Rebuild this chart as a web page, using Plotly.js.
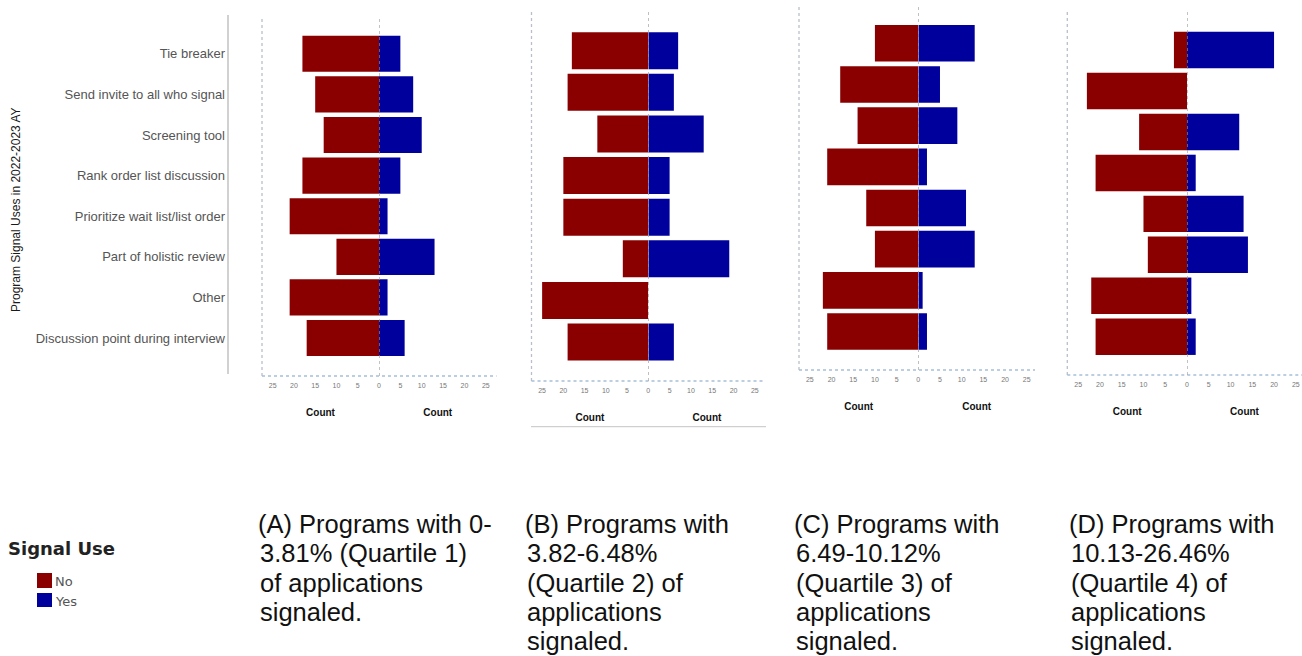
<!DOCTYPE html>
<html>
<head>
<meta charset="utf-8">
<script src="https://cdn.plot.ly/plotly-3.0.1.min.js"></script>
<style>
  html, body { margin: 0; padding: 0; background: #fff; }
  #chart { width: 1302px; height: 656px; }
</style>
</head>
<body>
<div id="chart"></div>
<script>
// ---------------- data ----------------
const categories = [
  "Tie breaker",
  "Send invite to all who signal",
  "Screening tool",
  "Rank order list discussion",
  "Prioritize wait list/list order",
  "Part of holistic review",
  "Other",
  "Discussion point during interview"
];
const noQ1  = [18, 15, 13, 18, 21, 10, 21, 17];
const yesQ1 = [5, 8, 10, 5, 2, 13, 2, 6];
const noQ2  = [18, 19, 12, 20, 20, 6, 25, 19];
const yesQ2 = [7, 6, 13, 5, 5, 19, 0, 6];
const noQ3  = [10, 18, 14, 21, 12, 10, 22, 21];
const yesQ3 = [13, 5, 9, 2, 11, 13, 1, 2];
const noQ4  = [3, 23, 11, 21, 10, 9, 22, 21];
const yesQ4 = [20, 0, 12, 2, 13, 14, 1, 2];
const tickValues = [0, 5, 10, 15, 20, 25];
const seriesNames = ["No", "Yes"];
const legendTitle = "Signal Use";
const yAxisTitle = "Program Signal Uses in 2022-2023 AY";
const xAxisTitle = "Count";
const captionA = ["(A) Programs with 0-", "3.81% (Quartile 1)", "of applications", "signaled."];
const captionB = ["(B) Programs with", "3.82-6.48%", "(Quartile 2) of", "applications", "signaled."];
const captionC = ["(C) Programs with", "6.49-10.12%", "(Quartile 3) of", "applications", "signaled."];
const captionD = ["(D) Programs with", "10.13-26.46%", "(Quartile 4) of", "applications", "signaled."];

// ---------------- layout helpers ----------------
const W = 1302, H = 656;
const fx = px => px / W;
const fy = px => 1 - px / H;
const RED = "#8a0000", BLUE = "#00009c";

const panelData = [
  {no: noQ1, yes: yesQ1, caption: captionA},
  {no: noQ2, yes: yesQ2, caption: captionB},
  {no: noQ3, yes: yesQ3, caption: captionC},
  {no: noQ4, yes: yesQ4, caption: captionD}
];
// pixel geometry of each panel (left edge, zero line, right edge, top, bottom)
const geom = [
  {x0: 262,    xz: 379,    x1: 496.5, top: 16, bot: 376, capX: 256},
  {x0: 531.5,  xz: 648.3,  x1: 765.5, top: 12, bot: 381, capX: 523},
  {x0: 799,    xz: 918.3,  x1: 1035,  top: 5,  bot: 370, capX: 792},
  {x0: 1067.3, xz: 1187,   x1: 1302,  top: 12, bot: 375, capX: 1067}
];
const LEFT_MAX = 27.5;
const Y_RANGE = [7.935, -0.93];

const traces = [];
const layout = {
  width: W, height: H,
  margin: {l: 0, r: 0, t: 0, b: 0},
  paper_bgcolor: "#fff", plot_bgcolor: "rgba(0,0,0,0)",
  showlegend: false,
  bargap: 0.11,
  font: {family: "Liberation Sans, Arial, sans-serif", color: "#333"},
  shapes: [], annotations: []
};

const tickFont = {family: "Liberation Sans, Arial, sans-serif", size: 7, color: "#777"};
const countTitle = {text: xAxisTitle, font: {family: "Liberation Sans, Arial, sans-serif", size: 10, color: "#111", weight: "bold"}, standoff: 20};

panelData.forEach((p, i) => {
  const g = geom[i];
  const xl = 2 * i + 1, xr = 2 * i + 2, yi = i + 1;
  const xlName = "x" + xl, xrName = "x" + xr, yName = "y" + yi;
  const pxPerUnit = (g.xz - g.x0) / LEFT_MAX;
  const rightMax = Math.min(LEFT_MAX, (g.x1 - g.xz) / pxPerUnit);

  traces.push({
    type: "bar", orientation: "h", name: seriesNames[0],
    x: p.no, y: categories, xaxis: xlName, yaxis: yName,
    marker: {color: RED, line: {width: 0}}, hoverinfo: "x+y+name"
  });
  traces.push({
    type: "bar", orientation: "h", name: seriesNames[1],
    x: p.yes, y: categories, xaxis: xrName, yaxis: yName,
    marker: {color: BLUE, line: {width: 0}}, hoverinfo: "x+y+name"
  });

  const yDomain = [fy(g.bot), fy(g.top)];
  layout["xaxis" + xl] = {
    domain: [fx(g.x0), fx(g.xz)], anchor: yName,
    range: [LEFT_MAX, 0], tickvals: tickValues,
    showgrid: false, zeroline: false, showline: false, ticks: "",
    tickfont: tickFont, ticklabelstandoff: 4, fixedrange: true,
    title: countTitle
  };
  layout["xaxis" + xr] = {
    domain: [fx(g.xz), fx(g.x1)], anchor: yName,
    range: [0, rightMax], tickvals: tickValues.filter(v => v > 0 && v <= rightMax + 0.01),
    showgrid: false, zeroline: false, showline: false, ticks: "",
    tickfont: tickFont, ticklabelstandoff: 4, fixedrange: true,
    title: countTitle
  };
  layout["yaxis" + yi] = {
    domain: yDomain, anchor: xlName,
    type: "category", categoryorder: "array", categoryarray: categories,
    range: Y_RANGE, showgrid: false, zeroline: false, showline: false, ticks: "",
    showticklabels: i === 0, ticklabelstandoff: 36,
    tickfont: {family: "Liberation Sans, Arial, sans-serif", size: 13, color: "#555"},
    fixedrange: true
  };

  // dotted frame lines (left and bottom) and dotted zero line
  layout.shapes.push({type: "line", xref: "paper", yref: "paper",
    x0: fx(g.x0), x1: fx(g.x0), y0: fy(g.bot), y1: fy(g.top),
    line: {color: "#b9bfca", width: 1.3, dash: "dot"}});
  layout.shapes.push({type: "line", xref: "paper", yref: "paper",
    x0: fx(g.x0), x1: fx(g.x1), y0: fy(g.bot), y1: fy(g.bot),
    line: {color: "#a7bfd9", width: 1.6, dash: "dot"}});
  layout.shapes.push({type: "line", xref: xrName, yref: "paper",
    x0: 0, x1: 0, y0: fy(g.bot), y1: fy(g.top),
    line: {color: "#9a9a9a", width: 1.2, dash: "dot"}, layer: "above"});

  // caption below the panel
  p.caption.forEach((line, k) => {
    layout.annotations.push({
      xref: "paper", yref: "paper", x: fx(g.capX + (k === 0 ? 0 : 2)), y: fy(524 + k * 29.3),
      xanchor: "left", yanchor: "middle", showarrow: false, text: line,
      font: {family: "Liberation Sans, Arial, sans-serif", size: 25.5, color: "#111"}
    });
  });
});

// separator line next to the category labels
layout.shapes.push({type: "line", xref: "paper", yref: "paper",
  x0: fx(228), x1: fx(228), y0: fy(374), y1: fy(15),
  line: {color: "#b3b3b3", width: 1.2}});
// line under panel B
layout.shapes.push({type: "line", xref: "paper", yref: "paper",
  x0: fx(531), x1: fx(766), y0: fy(426.7), y1: fy(426.7),
  line: {color: "#c4c4c4", width: 1}});

// y axis title
layout.annotations.push({
  xref: "paper", yref: "paper", x: fx(16), y: fy(210), textangle: -90,
  xanchor: "center", yanchor: "middle", showarrow: false, text: yAxisTitle,
  font: {family: "Liberation Sans, Arial, sans-serif", size: 12, color: "#1a1a1a"}
});

// legend (drawn)
layout.annotations.push({
  xref: "paper", yref: "paper", x: fx(6), y: fy(548),
  xanchor: "left", yanchor: "middle", showarrow: false, text: "<b>" + legendTitle + "</b>",
  font: {family: "DejaVu Sans, Verdana, sans-serif", size: 18, color: "#222"}
});
[[RED, 573, 588, 581], [BLUE, 593, 607, 601]].forEach((s, k) => {
  layout.shapes.push({type: "rect", xref: "paper", yref: "paper",
    x0: fx(37), x1: fx(52), y0: fy(s[2]), y1: fy(s[1]),
    fillcolor: s[0], line: {width: 0}});
  layout.annotations.push({
    xref: "paper", yref: "paper", x: fx(53), y: fy(s[3]),
    xanchor: "left", yanchor: "middle", showarrow: false, text: seriesNames[k],
    font: {family: "DejaVu Sans, Verdana, sans-serif", size: 13, color: "#555"}
  });
});

Plotly.newPlot("chart", traces, layout, {displayModeBar: false, staticPlot: true});
</script>
</body>
</html>
